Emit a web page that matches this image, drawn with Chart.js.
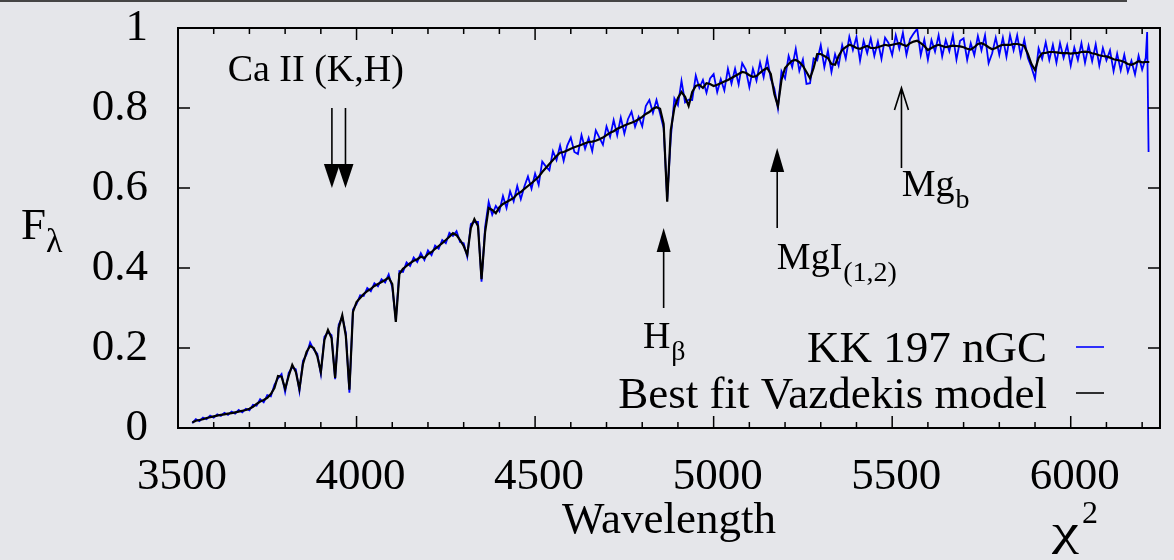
<!DOCTYPE html>
<html><head><meta charset="utf-8">
<script src="https://cdn.jsdelivr.net/npm/chart.js@4.4.1/dist/chart.umd.min.js"></script>
<style>
html,body{margin:0;padding:0;background:#e5e6ea;}
#wrap{position:relative;width:1174px;height:560px;overflow:hidden;}
#topline{position:absolute;left:0;top:0;width:1127px;height:2px;background:#454545;}
canvas{position:absolute;left:0;top:0;}
</style></head><body>
<div id="wrap"><div id="topline"></div><canvas id="c" width="1174" height="560"></canvas></div>
<script>
const wavelength = [
3540,3550,3560,3570,3580,3590,3600,3610,3620,3630,
3640,3650,3660,3670,3680,3690,3700,3710,3720,3730,
3740,3750,3760,3770,3780,3790,3800,3810,3820,3830,
3840,3850,3860,3870,3880,3890,3900,3910,3920,3930,
3940,3950,3960,3970,3980,3990,4000,4010,4020,4030,
4040,4050,4060,4070,4080,4090,4100,4110,4120,4130,
4140,4150,4160,4170,4180,4190,4200,4210,4220,4230,
4240,4250,4260,4270,4280,4290,4300,4310,4320,4330,
4340,4350,4360,4370,4380,4390,4400,4410,4420,4430,
4440,4450,4460,4470,4480,4490,4500,4510,4520,4530,
4540,4550,4560,4570,4580,4590,4600,4610,4620,4630,
4640,4650,4660,4670,4680,4690,4700,4710,4720,4730,
4740,4750,4760,4770,4780,4790,4800,4810,4820,4830,
4840,4850,4860,4870,4880,4890,4900,4910,4920,4930,
4940,4950,4960,4970,4980,4990,5000,5010,5020,5030,
5040,5050,5060,5070,5080,5090,5100,5110,5120,5130,
5140,5150,5160,5170,5180,5190,5200,5210,5220,5230,
5240,5250,5260,5270,5280,5290,5300,5310,5320,5330,
5340,5350,5360,5370,5380,5390,5400,5410,5420,5430,
5440,5450,5460,5470,5480,5490,5500,5510,5520,5530,
5540,5550,5560,5570,5580,5590,5600,5610,5620,5630,
5640,5650,5660,5670,5680,5690,5700,5710,5720,5730,
5740,5750,5760,5770,5780,5790,5800,5810,5820,5830,
5840,5850,5860,5870,5880,5890,5900,5910,5920,5930,
5940,5950,5960,5970,5980,5990,6000,6010,6020,6030,
6040,6050,6060,6070,6080,6090,6100,6110,6120,6130,
6140,6150,6160,6170,6180,6190,6200,6210];

// KK 197 nGC (observed, blue)
const fluxObserved = [
.012,.022,.017,.026,.022,.031,.026,.034,.030,.038,
.033,.041,.036,.045,.039,.048,.044,.058,.056,.072,
.064,.082,.079,.108,.124,.135,.090,.138,.152,.147,
.092,.168,.184,.214,.196,.186,.135,.228,.240,.232,
.122,.258,.278,.238,.088,.296,.310,.332,.330,.350,
.342,.362,.354,.372,.364,.384,.352,.270,.392,.390,
.414,.405,.426,.415,.437,.420,.444,.432,.456,.448,
.470,.462,.488,.480,.492,.465,.462,.428,.510,.515,
.515,.366,.502,.565,.533,.555,.542,.580,.550,.592,
.567,.605,.572,.604,.629,.598,.636,.608,.666,.654,
.644,.692,.670,.706,.668,.706,.726,.690,.685,.732,
.698,.725,.692,.744,.726,.708,.754,.728,.770,.732,
.776,.736,.772,.791,.753,.778,.754,.805,.820,.788,
.820,.786,.750,.572,.725,.824,.807,.868,.814,.821,
.820,.881,.850,.870,.838,.874,.885,.840,.872,.844,
.898,.861,.898,.859,.912,.896,.852,.898,.868,.914,
.877,.924,.873,.849,.799,.892,.874,.930,.902,.948,
.893,.921,.860,.862,.924,.919,.957,.902,.943,.890,
.934,.906,.957,.924,.978,.945,.978,.918,.968,.937,
.974,.930,.966,.923,.976,.962,.932,.982,.948,.988,
.933,.972,.986,.998,.932,.971,.921,.970,.941,.982,
.929,.970,.942,.982,.921,.968,.974,.920,.962,.932,
.980,.944,.982,.912,.937,.976,.933,.976,.928,.982,
.944,.982,.930,.971,.925,.902,.873,.949,.923,.964,
.920,.958,.913,.962,.925,.957,.906,.951,.920,.962,
.913,.956,.917,.959,.906,.950,.919,.944,.892,.936,
.894,.933,.890,.918,.884,.931,.896,.925];
const observedTailWavelength = [6214, 6218];
const observedTailFlux = [0.99, 0.69];

// Best fit Vazdekis model (black)
const fluxModel = [
.014,.018,.020,.022,.025,.027,.029,.031,.033,.034,
.036,.037,.039,.041,.043,.045,.048,.053,.060,.066,
.070,.075,.085,.100,.130,.128,.098,.130,.158,.140,
.098,.160,.190,.205,.200,.180,.140,.220,.245,.225,
.125,.250,.282,.230,.096,.290,.315,.325,.335,.342,
.348,.355,.360,.365,.370,.376,.360,.265,.385,.398,
.405,.412,.418,.422,.428,.425,.435,.440,.448,.455,
.462,.470,.478,.487,.482,.470,.455,.433,.500,.522,
.505,.372,.490,.550,.545,.537,.552,.560,.565,.570,
.575,.585,.590,.598,.605,.612,.620,.628,.640,.650,
.660,.670,.680,.688,.690,.694,.698,.702,.705,.708,
.712,.715,.716,.718,.722,.726,.732,.738,.742,.748,
.752,.756,.760,.763,.767,.772,.778,.785,.790,.798,
.802,.798,.760,.566,.745,.800,.825,.840,.828,.805,
.840,.855,.858,.850,.862,.860,.855,.858,.862,.866,
.870,.875,.880,.885,.890,.888,.882,.878,.880,.888,
.895,.900,.885,.835,.805,.870,.900,.910,.918,.920,
.915,.905,.890,.874,.900,.935,.935,.930,.925,.910,
.908,.930,.945,.952,.958,.955,.950,.948,.952,.955,
.950,.950,.952,.955,.958,.956,.958,.960,.962,.958,
.955,.962,.966,.968,.962,.955,.945,.950,.955,.958,
.955,.952,.954,.956,.955,.954,.952,.948,.946,.952,
.960,.962,.958,.952,.947,.950,.955,.958,.958,.958,
.960,.960,.958,.955,.935,.910,.895,.925,.937,.938,
.940,.940,.939,.938,.937,.937,.936,.937,.938,.940,
.941,.940,.937,.935,.932,.930,.929,.926,.922,.920,
.918,.915,.910,.908,.912,.917,.914,.915];
const modelTailWavelength = [6220];
const modelTailFlux = [0.915];

const seriesLabels = ['KK 197 nGC', 'Best fit Vazdekis model'];
const seriesColors = ['#0000ff', '#000000'];
const xMajorTicks = [3500, 4000, 4500, 5000, 5500, 6000];
const xMinorTicks = [3600,3700,3800,3900,4100,4200,4300,4400,4600,4700,4800,4900,5100,5200,5300,5400,5600,5700,5800,5900,6100,6200];
const yTicks = [0, 0.2, 0.4, 0.6, 0.8, 1];

// line markers (arrows)
const arrowWavelength = [3931, 3969, 4860, 5178, 5526];
const arrowFrom = [0.8, 0.8, 0.3, 0.5, 0.65];
const arrowTo = [0.6, 0.6, 0.5, 0.7, 0.85];
const arrowOpenHead = [false, false, false, false, true];
const annotationText = ['Ca II (K,H)', 'H', 'MgI', 'Mg'];
const annotationSub = ['', 'β', '(1,2)', 'b'];
const annotationWavelength = [3639, 4802, 5177, 5527];
const annotationFlux = [0.868, 0.2008, 0.398, 0.581];

const SERIF = '"Liberation Serif", "Times New Roman", serif';

function pts(xs, ys) { return xs.map((x, i) => ({x: x, y: ys[i]})); }

const overlay = {
  id: 'overlay',
  afterDatasetsDraw(chart) {
    const ctx = chart.ctx, a = chart.chartArea;
    const xs = chart.scales.x, ys = chart.scales.y;
    ctx.save();
    ctx.strokeStyle = '#000'; ctx.fillStyle = '#000';
    // frame
    ctx.lineWidth = 2;
    ctx.strokeRect(a.left, a.top, a.right - a.left, a.bottom - a.top);
    // inward ticks
    ctx.lineWidth = 1.5;
    ctx.beginPath();
    xMajorTicks.forEach(v => { const p = xs.getPixelForValue(v);
      ctx.moveTo(p, a.bottom); ctx.lineTo(p, a.bottom - 12);
      ctx.moveTo(p, a.top); ctx.lineTo(p, a.top + 12); });
    xMinorTicks.forEach(v => { const p = xs.getPixelForValue(v);
      ctx.moveTo(p, a.bottom); ctx.lineTo(p, a.bottom - 6);
      ctx.moveTo(p, a.top); ctx.lineTo(p, a.top + 6); });
    yTicks.forEach(v => { const p = ys.getPixelForValue(v);
      ctx.moveTo(a.left, p); ctx.lineTo(a.left + 12, p);
      ctx.moveTo(a.right, p); ctx.lineTo(a.right - 12, p); });
    ctx.stroke();
    // arrows
    arrowWavelength.forEach((w, i) => {
      const x = xs.getPixelForValue(w);
      const y0 = ys.getPixelForValue(arrowFrom[i]);
      const y1 = ys.getPixelForValue(arrowTo[i]);
      const dir = y1 < y0 ? 1 : -1;
      const hl = 24, hw = i < 2 ? 8 : 7;
      ctx.lineWidth = 1.6;
      ctx.beginPath();
      if (arrowOpenHead[i]) {
        ctx.moveTo(x, y0); ctx.lineTo(x, y1);
        ctx.moveTo(x - hw, y1 + dir * 22); ctx.lineTo(x, y1); ctx.lineTo(x + hw, y1 + dir * 22);
        ctx.stroke();
      } else {
        ctx.moveTo(x, y0); ctx.lineTo(x, y1 + dir * hl);
        ctx.stroke();
        ctx.beginPath();
        ctx.moveTo(x, y1); ctx.lineTo(x - hw, y1 + dir * hl); ctx.lineTo(x + hw, y1 + dir * hl);
        ctx.closePath(); ctx.fill();
      }
    });
    // annotation labels
    ctx.textBaseline = 'alphabetic'; ctx.textAlign = 'left';
    annotationText.forEach((t, i) => {
      const x = xs.getPixelForValue(annotationWavelength[i]);
      const y = ys.getPixelForValue(annotationFlux[i]);
      ctx.font = '38px ' + SERIF;
      ctx.fillText(t, x, y);
      if (annotationSub[i]) {
        const w = ctx.measureText(t).width;
        ctx.font = '28px ' + SERIF;
        ctx.fillText(annotationSub[i], x + w + 1, y + 12);
      }
    });
    // legend
    ctx.font = '45px ' + SERIF; ctx.textAlign = 'right';
    seriesLabels.forEach((lab, i) => {
      const base = a.bottom - 66 + i * 46;
      ctx.fillStyle = '#000';
      ctx.fillText(lab, a.right - 113, base);
      ctx.strokeStyle = seriesColors[i]; ctx.lineWidth = 1.6;
      ctx.beginPath();
      ctx.moveTo(a.right - 84, base - 15); ctx.lineTo(a.right - 56, base - 15);
      ctx.stroke();
    });
    // y axis label F_lambda
    ctx.fillStyle = '#000'; ctx.textAlign = 'left';
    ctx.font = '45px ' + SERIF; ctx.fillText('F', 21, 239);
    ctx.font = '34px ' + SERIF; ctx.fillText('λ', 46, 252);
    // chi^2
    ctx.save();
    ctx.translate(1052, 545); ctx.scale(1.35, 1);
    ctx.font = '45px ' + SERIF; ctx.fillText('χ', 0, 0);
    ctx.restore();
    ctx.font = '32px ' + SERIF; ctx.fillText('2', 1082, 523);
    ctx.restore();
  }
};

new Chart(document.getElementById('c'), {
  type: 'line',
  data: {
    datasets: [
      { label: seriesLabels[0], data: pts(wavelength.concat(observedTailWavelength), fluxObserved.concat(observedTailFlux)),
        borderColor: seriesColors[0], borderWidth: 1.8, pointRadius: 0, tension: 0, order: 2 },
      { label: seriesLabels[1], data: pts(wavelength.concat(modelTailWavelength), fluxModel.concat(modelTailFlux)),
        borderColor: seriesColors[1], borderWidth: 2.2, pointRadius: 0, tension: 0, order: 1 }
    ]
  },
  options: {
    responsive: false, animation: false, devicePixelRatio: 1,
    layout: { padding: { top: 28, right: 14, left: 0, bottom: 0 } },
    plugins: { legend: { display: false }, tooltip: { enabled: false } },
    scales: {
      x: {
        type: 'linear', min: 3500, max: 6250,
        afterBuildTicks: s => { s.ticks = xMajorTicks.map(v => ({ value: v })); },
        afterFit: s => { s.height = 132; s.paddingLeft = 0; s.paddingRight = 0; },
        grid: { display: false, drawTicks: false }, border: { display: false },
        ticks: { font: { family: SERIF, size: 45 }, color: '#000', padding: 22, labelOffset: 4,
                 maxRotation: 0, autoSkip: false, callback: v => String(v) },
        title: { display: true, text: 'Wavelength', font: { family: SERIF, size: 45 }, color: '#000',
                 padding: { top: 0, bottom: 12 } }
      },
      y: {
        min: 0, max: 1,
        afterBuildTicks: s => { s.ticks = yTicks.map(v => ({ value: v })); },
        afterFit: s => { s.width = 178; s.paddingTop = 0; s.paddingBottom = 0; },
        grid: { display: false, drawTicks: false }, border: { display: false },
        ticks: { font: { family: SERIF, size: 45 }, color: '#000', padding: 30, callback: v => String(v) }
      }
    }
  },
  plugins: [overlay]
});
</script>
</body></html>
